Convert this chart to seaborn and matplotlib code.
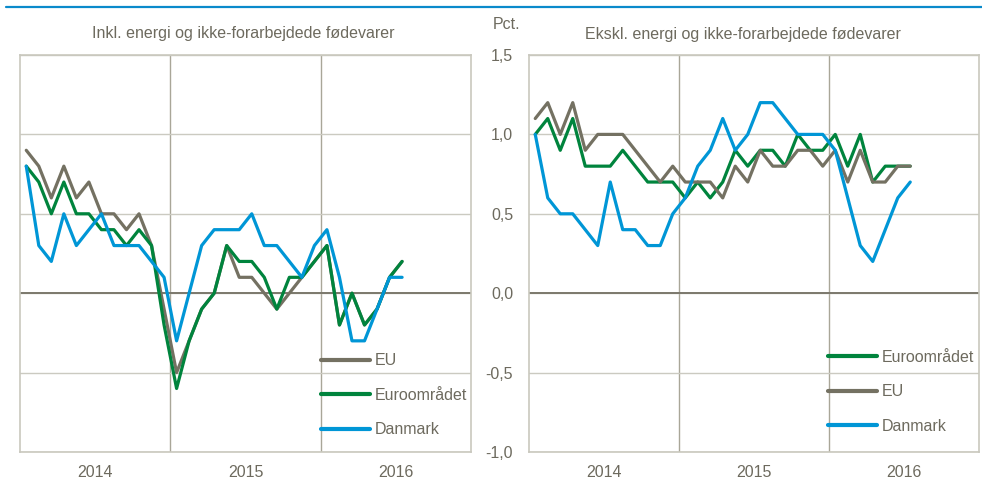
import numpy as np
import pandas as pd
import seaborn as sns
import matplotlib.pyplot as plt
from matplotlib.lines import Line2D

# monthly data, Jan 2014 - Jul 2016
years = ["2014", "2015", "2016"]

inkl_eu = [0.9, 0.8, 0.6, 0.8, 0.6, 0.7, 0.5, 0.5, 0.4, 0.5, 0.3, -0.1,
           -0.5, -0.3, -0.1, 0.0, 0.3, 0.1, 0.1, 0.0, -0.1, 0.0, 0.1, 0.2,
           0.3, -0.2, 0.0, -0.2, -0.1, 0.1, 0.2]
inkl_euro = [0.8, 0.7, 0.5, 0.7, 0.5, 0.5, 0.4, 0.4, 0.3, 0.4, 0.3, -0.2,
             -0.6, -0.3, -0.1, 0.0, 0.3, 0.2, 0.2, 0.1, -0.1, 0.1, 0.1, 0.2,
             0.3, -0.2, 0.0, -0.2, -0.1, 0.1, 0.2]
inkl_dk = [0.8, 0.3, 0.2, 0.5, 0.3, 0.4, 0.5, 0.3, 0.3, 0.3, 0.2, 0.1,
           -0.3, 0.0, 0.3, 0.4, 0.4, 0.4, 0.5, 0.3, 0.3, 0.2, 0.1, 0.3,
           0.4, 0.1, -0.3, -0.3, -0.1, 0.1, 0.1]

exkl_euro = [1.0, 1.1, 0.9, 1.1, 0.8, 0.8, 0.8, 0.9, 0.8, 0.7, 0.7, 0.7,
             0.6, 0.7, 0.6, 0.7, 0.9, 0.8, 0.9, 0.9, 0.8, 1.0, 0.9, 0.9,
             1.0, 0.8, 1.0, 0.7, 0.8, 0.8, 0.8]
exkl_eu = [1.1, 1.2, 1.0, 1.2, 0.9, 1.0, 1.0, 1.0, 0.9, 0.8, 0.7, 0.8,
           0.7, 0.7, 0.7, 0.6, 0.8, 0.7, 0.9, 0.8, 0.8, 0.9, 0.9, 0.8,
           0.9, 0.7, 0.9, 0.7, 0.7, 0.8, 0.8]
exkl_dk = [1.0, 0.6, 0.5, 0.5, 0.4, 0.3, 0.7, 0.4, 0.4, 0.3, 0.3, 0.5,
           0.6, 0.8, 0.9, 1.1, 0.9, 1.0, 1.2, 1.2, 1.1, 1.0, 1.0, 1.0,
           0.9, 0.6, 0.3, 0.2, 0.4, 0.6, 0.7]

y_ticks = [-1.0, -0.5, 0.0, 0.5, 1.0, 1.5]

GREY = "#747162"
GREEN = "#00843D"
BLUE = "#0096D6"
TEXT = "#6D6A5E"
palette = {"EU": GREY, "Euroområdet": GREEN, "Danmark": BLUE}


def to_long(series):
    frames = []
    for name, vals in series.items():
        frames.append(pd.DataFrame({
            "month": np.arange(len(vals)) + 0.5,
            "serie": name,
            "value": vals,
        }))
    return pd.concat(frames, ignore_index=True)


sns.set_style("white")
plt.rcParams["font.family"] = ["Liberation Sans", "DejaVu Sans"]
plt.rcParams["font.size"] = 11.5

fig = plt.figure(figsize=(9.82, 4.90), dpi=100)
W, H = 982, 490


def px_axes(x0, y0, x1, y1):
    return fig.add_axes([x0 / W, 1 - y1 / H, (x1 - x0) / W, (y1 - y0) / H])


ax_l = px_axes(20, 55, 471, 452)
ax_r = px_axes(529, 55, 979, 452)

panels = [
    (ax_l, {"EU": inkl_eu, "Euroområdet": inkl_euro, "Danmark": inkl_dk}),
    (ax_r, {"Euroområdet": exkl_euro, "EU": exkl_eu, "Danmark": exkl_dk}),
]

for ax, series in panels:
    df = to_long(series)
    sns.lineplot(data=df, x="month", y="value", hue="serie",
                 hue_order=list(series.keys()), palette=palette,
                 linewidth=2.3, ax=ax)
    ax.set_xlim(0, 36)
    ax.set_ylim(-1.0, 1.5)
    ax.set_yticks(y_ticks)
    ax.set_xticks([6, 18, 30], years)
    ax.set_xticks([12, 24], minor=True)
    ax.grid(True, axis="y", color="#CBCAC1", linewidth=1.0)
    ax.grid(True, axis="x", which="minor", color="#A9A698", linewidth=1.0)
    ax.set_axisbelow(True)
    ax.axhline(0, color="#7B786C", linewidth=1.4, zorder=1.5)
    for s in ax.spines.values():
        s.set_color("#C9C8BE")
        s.set_linewidth(1.2)
    ax.tick_params(axis="both", length=0, colors=TEXT, labelsize=11.5)
    ax.tick_params(axis="x", pad=9)
    ax.set_xlabel("")
    ax.set_ylabel("")

ax_l.set_yticklabels([])
ax_r.set_yticklabels([f"{v:.1f}".replace(".", ",") for v in y_ticks])
ax_r.tick_params(axis="y", pad=11.5)

leg_l = ax_l.legend(loc="upper left", bbox_to_anchor=(0.667, 0.249),
                    frameon=False, handlelength=3.1, handletextpad=0.3,
                    labelspacing=1.22, borderpad=0, borderaxespad=0,
                    fontsize=11.5)
leg_r = ax_r.legend(loc="upper left", bbox_to_anchor=(0.664, 0.257),
                    frameon=False, handlelength=3.1, handletextpad=0.3,
                    labelspacing=1.22, borderpad=0, borderaxespad=0,
                    fontsize=11.5)
for leg in (leg_l, leg_r):
    for t in leg.get_texts():
        t.set_color(TEXT)
    for h in leg.get_lines():
        h.set_linewidth(3.0)

fig.text(243 / W, 1 - 38 / H, "Inkl. energi og ikke-forarbejdede fødevarer",
         ha="center", va="baseline", color=TEXT, fontsize=11.5)
fig.text(743 / W, 1 - 39 / H, "Ekskl. energi og ikke-forarbejdede fødevarer",
         ha="center", va="baseline", color=TEXT, fontsize=11.5)
fig.text(493 / W, 1 - 29 / H, "Pct.", ha="left", va="baseline",
         color=TEXT, fontsize=11.5)

fig.add_artist(Line2D([6 / W, 1], [1 - 7 / H, 1 - 7 / H],
                      transform=fig.transFigure, color="#0A8ACB", linewidth=1.6))

fig.savefig("out.png", dpi=100)
